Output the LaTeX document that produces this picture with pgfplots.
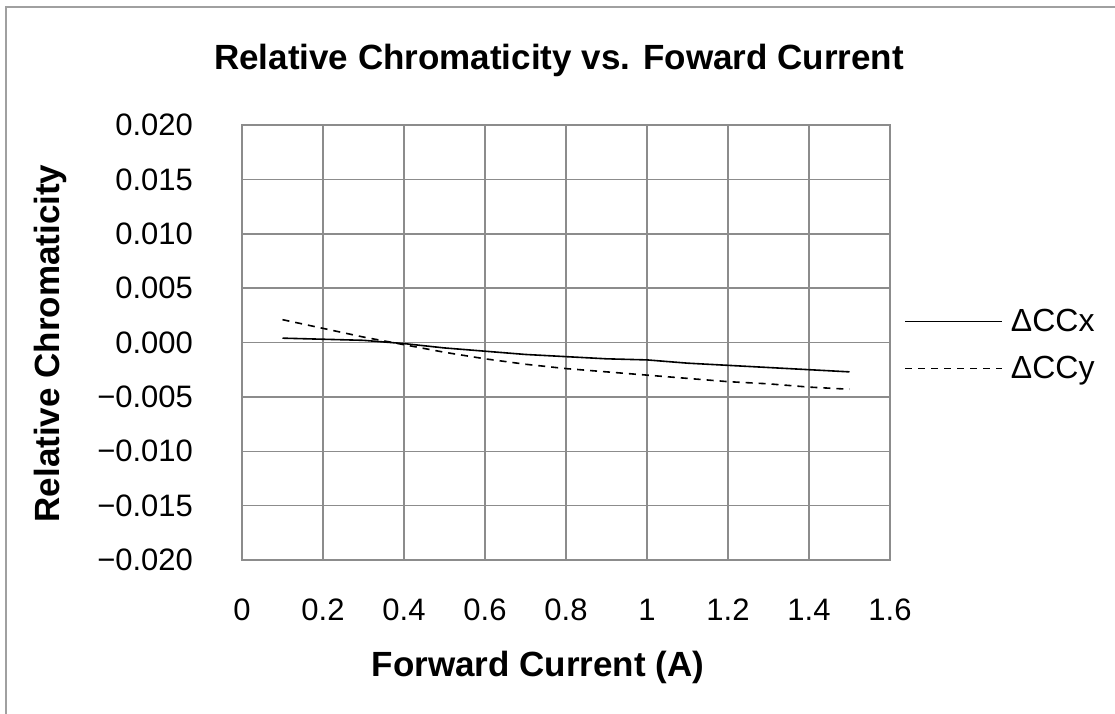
\documentclass[border=0pt]{standalone}
\usepackage{fontspec}
\setmainfont{Liberation Sans}
\usepackage{pgfplots}
\pgfplotsset{compat=1.18}

\definecolor{gridgray}{RGB}{140,140,140}
\definecolor{framegray}{RGB}{160,160,160}

\begin{document}
\begin{tikzpicture}
\useasboundingbox (-121pt,-76.5pt) rectangle (436.5pt,280pt);
\draw[framegray, line width=1pt] (-118.2pt,-140pt) rectangle (480pt,276.5pt);
\begin{axis}[
    scale only axis,
    width=324pt, height=217.5pt,
    xmin=0, xmax=1.6, ymin=-0.020, ymax=0.020,
    scaled y ticks=false,
    xtick={0,0.2,...,1.6},
    xticklabels={0,0.2,0.4,0.6,0.8,1,1.2,1.4,1.6},
    ytick={-0.020,-0.015,...,0.021},
    yticklabels={−0.020,−0.015,−0.010,−0.005,0.000,0.005,0.010,0.015,0.020},
    major tick length=0pt,
    grid=major,
    major grid style={gridgray, line width=0.75pt},
    axis line style={gridgray, line width=0.75pt},
    tick label style={font=\fontsize{15.5}{18}\selectfont},
    xticklabel style={yshift=-16pt},
    yticklabel style={xshift=-21pt},
    title={Relative Chromaticity vs. Foward Current},
    title style={font=\fontsize{17.5}{20}\selectfont\bfseries, at={(0.5,1)}, anchor=center, yshift=26.5pt, xshift=-3.5pt},
    xlabel={Forward Current (A)},
    xlabel style={font=\fontsize{17.5}{20}\selectfont\bfseries, at={(0.5,0)}, anchor=center, yshift=-53.5pt, xshift=-14pt},
    ylabel={Relative Chromaticity},
    ylabel style={font=\fontsize{17.5}{20}\selectfont\bfseries, at={(-0.2963,0.4977)}, anchor=center},
    legend style={draw=none, fill=none, at={(1,0.5)}, anchor=west, xshift=4pt, yshift=-1.25pt,
        font=\fontsize{16}{19}\selectfont, row sep=7pt, legend cell align=left,
        nodes={inner xsep=4pt}},
    legend image code/.code={\draw[#1] (0pt,0pt) -- (48.5pt,0pt);},
]
\addplot[black, line width=0.8pt] coordinates {
    (0.1,0.0004) (0.2,0.0003) (0.3,0.0002) (0.4,-0.0001) (0.5,-0.0005)
    (0.6,-0.0008) (0.7,-0.0011) (0.8,-0.0013) (0.9,-0.0015) (1.0,-0.0016)
    (1.1,-0.0019) (1.2,-0.0021) (1.3,-0.0023) (1.4,-0.0025) (1.5,-0.0027)
};
\addlegendentry{ΔCCx}
\addplot[black, line width=0.8pt, dash pattern=on 3.5pt off 3pt] coordinates {
    (0.1,0.0021) (0.2,0.0013) (0.3,0.0005) (0.4,-0.0002) (0.5,-0.0009)
    (0.6,-0.0015) (0.7,-0.0020) (0.8,-0.0024) (0.9,-0.0027) (1.0,-0.0030)
    (1.1,-0.0033) (1.2,-0.0036) (1.3,-0.0038) (1.4,-0.0041) (1.5,-0.0043)
};
\addlegendentry{ΔCCy}
\end{axis}
\end{tikzpicture}
\end{document}
